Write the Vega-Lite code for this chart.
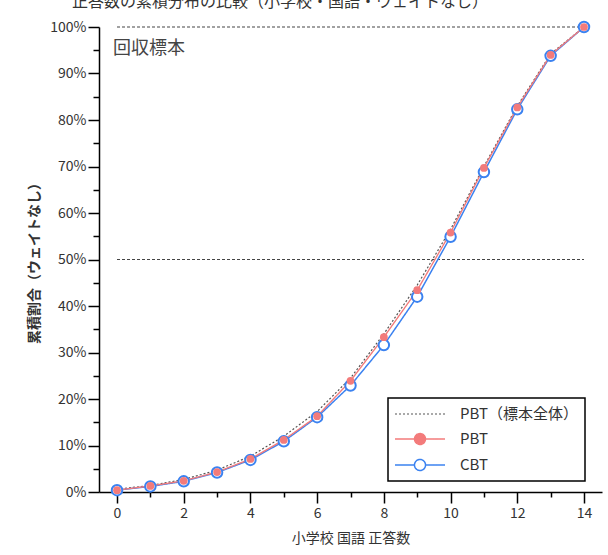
{
  "$schema": "https://vega.github.io/schema/vega-lite/v6.json",
  "width": 503,
  "height": 465,
  "autosize": "none",
  "padding": {"left": 99, "top": 27, "right": 6, "bottom": 63},
  "background": "white",
  "config": {
    "view": {"stroke": null},
    "font": "Noto Sans CJK JP",
    "axis": {"domainColor": "black", "domainWidth": 1.5, "tickColor": "black", "tickWidth": 1.5, "labelFontSize": 14, "labelColor": "#333", "titleFontSize": 14, "titleColor": "#333", "grid": false, "labelFont": "Noto Sans CJK JP", "titleFont": "Noto Sans CJK JP", "labelOverlap": false, "labelFlush": false}
  },
  "data": {"values": [
    {"x": 0, "series": "PBT（標本全体）", "v": 0.006},
    {"x": 1, "series": "PBT（標本全体）", "v": 0.014},
    {"x": 2, "series": "PBT（標本全体）", "v": 0.027},
    {"x": 3, "series": "PBT（標本全体）", "v": 0.047},
    {"x": 4, "series": "PBT（標本全体）", "v": 0.077},
    {"x": 5, "series": "PBT（標本全体）", "v": 0.12},
    {"x": 6, "series": "PBT（標本全体）", "v": 0.173},
    {"x": 7, "series": "PBT（標本全体）", "v": 0.245},
    {"x": 8, "series": "PBT（標本全体）", "v": 0.34},
    {"x": 9, "series": "PBT（標本全体）", "v": 0.445},
    {"x": 10, "series": "PBT（標本全体）", "v": 0.565},
    {"x": 11, "series": "PBT（標本全体）", "v": 0.70},
    {"x": 12, "series": "PBT（標本全体）", "v": 0.83},
    {"x": 13, "series": "PBT（標本全体）", "v": 0.942},
    {"x": 14, "series": "PBT（標本全体）", "v": 1.0},
    {"x": 0, "series": "CBT", "v": 0.004},
    {"x": 1, "series": "CBT", "v": 0.012},
    {"x": 2, "series": "CBT", "v": 0.023},
    {"x": 3, "series": "CBT", "v": 0.042},
    {"x": 4, "series": "CBT", "v": 0.069},
    {"x": 5, "series": "CBT", "v": 0.109},
    {"x": 6, "series": "CBT", "v": 0.161},
    {"x": 7, "series": "CBT", "v": 0.229},
    {"x": 8, "series": "CBT", "v": 0.316},
    {"x": 9, "series": "CBT", "v": 0.42},
    {"x": 10, "series": "CBT", "v": 0.549},
    {"x": 11, "series": "CBT", "v": 0.688},
    {"x": 12, "series": "CBT", "v": 0.823},
    {"x": 13, "series": "CBT", "v": 0.938},
    {"x": 14, "series": "CBT", "v": 1.0},
    {"x": 0, "series": "PBT", "v": 0.004},
    {"x": 1, "series": "PBT", "v": 0.013},
    {"x": 2, "series": "PBT", "v": 0.024},
    {"x": 3, "series": "PBT", "v": 0.043},
    {"x": 4, "series": "PBT", "v": 0.071},
    {"x": 5, "series": "PBT", "v": 0.112},
    {"x": 6, "series": "PBT", "v": 0.163},
    {"x": 7, "series": "PBT", "v": 0.239},
    {"x": 8, "series": "PBT", "v": 0.333},
    {"x": 9, "series": "PBT", "v": 0.434},
    {"x": 10, "series": "PBT", "v": 0.558},
    {"x": 11, "series": "PBT", "v": 0.697},
    {"x": 12, "series": "PBT", "v": 0.827},
    {"x": 13, "series": "PBT", "v": 0.94},
    {"x": 14, "series": "PBT", "v": 1.0}
  ]},
  "layer": [
    {
      "data": {"values": [{"ref": 1}, {"ref": 0.5}]},
      "mark": {"type": "rule", "color": "#444", "strokeDash": [3, 2], "strokeWidth": 1.2},
      "encoding": {
        "y": {"field": "ref", "type": "quantitative", "scale": {"domain": [0, 1], "nice": false, "zero": false},
          "axis": {"orient": "left", "values": [0, 0.1, 0.2, 0.3, 0.4, 0.5, 0.6, 0.7, 0.8, 0.9, 1], "format": ".0%", "tickSize": 11, "labelPadding": 2, "title": "累積割合（ウェイトなし）", "titleFontWeight": "bold", "titlePadding": 8}},
        "x": {"datum": 0, "type": "quantitative", "scale": {"domain": [-0.54, 14.54], "nice": false, "zero": false},
          "axis": {"orient": "bottom", "values": [0, 2, 4, 6, 8, 10, 12, 14], "tickSize": 11, "labelPadding": 3, "title": "小学校 国語 正答数", "titlePadding": 11, "titleFontWeight": "normal"}},
        "x2": {"datum": 14}
      }
    },
    {
      "mark": {"type": "line"},
      "encoding": {
        "x": {"field": "x", "type": "quantitative",
          "axis": {"orient": "bottom", "values": [1, 3, 5, 7, 9, 11, 13], "tickSize": 5, "labels": false, "title": null, "domain": false}},
        "y": {"field": "v", "type": "quantitative",
          "axis": {"orient": "left", "values": [0.05, 0.15, 0.25, 0.35, 0.45, 0.55, 0.65, 0.75, 0.85, 0.95], "tickSize": 6, "labels": false, "title": null, "domain": false}},
        "color": {"field": "series", "type": "nominal",
          "scale": {"domain": ["PBT（標本全体）", "PBT", "CBT"], "range": ["#555555", "#f37b7b", "#3b82f0"]},
          "legend": {
            "orient": "none", "legendX": 289, "legendY": 371, "title": null,
            "padding": 7, "fillColor": "white", "strokeColor": "black",
            "symbolSize": 256, "symbolType": "circle", "symbolStrokeWidth": 1.5,
            "symbolOffset": 16,
            "labelFontSize": 15, "labelColor": "#333", "labelOffset": 31, "rowPadding": 8,
            "labelFont": "Noto Sans CJK JP",
            "encode": {
              "symbols": {"update": {
                "shape": {"signal": "datum.value === 'PBT（標本全体）' ? 'M-3.125,0L3.125,0' : 'M-3.125,0L-0.69,0M0.69,0L3.125,0M0.69,0A0.69,0.69,0,1,1,-0.69,0A0.69,0.69,0,1,1,0.69,0Z'"},
                "fill": {"signal": "datum.value === 'CBT' ? 'white' : (datum.value === 'PBT' ? '#f37b7b' : 'transparent')"},
                "stroke": {"signal": "datum.value === 'CBT' ? '#3b82f0' : (datum.value === 'PBT' ? '#f37b7b' : '#222222')"},
                "strokeDash": {"signal": "datum.value === 'PBT（標本全体）' ? [3, 2] : [1, 0]"},
                "strokeWidth": {"value": 1.5},
                "size": {"value": 256},
                "opacity": {"value": 1}
              }},
              "legend": {"update": {"strokeWidth": {"value": 1.5}}}
            }
          }},
        "strokeDash": {"field": "series", "type": "nominal", "scale": {"domain": ["PBT（標本全体）", "PBT", "CBT"], "range": [[2, 2], [1, 0], [1, 0]]}, "legend": null},
        "strokeWidth": {"field": "series", "type": "nominal", "scale": {"domain": ["PBT（標本全体）", "PBT", "CBT"], "range": [1.2, 1.5, 2]}, "legend": null}
      }
    },
    {
      "transform": [{"filter": "datum.series === 'CBT'"}],
      "mark": {"type": "point", "shape": "circle", "filled": true, "fill": "white", "stroke": "#3b82f0", "strokeWidth": 2, "size": 110, "opacity": 1},
      "encoding": {
        "x": {"field": "x", "type": "quantitative", "axis": null},
        "y": {"field": "v", "type": "quantitative", "axis": null}
      }
    },
    {
      "transform": [{"filter": "datum.series === 'PBT'"}],
      "mark": {"type": "circle", "color": "#f37b7b", "size": 60, "opacity": 1},
      "encoding": {
        "x": {"field": "x", "type": "quantitative", "axis": null},
        "y": {"field": "v", "type": "quantitative", "axis": null}
      }
    },
    {
      "data": {"values": [{"label": "回収標本"}]},
      "mark": {"type": "text", "align": "left", "baseline": "middle", "fontSize": 18, "color": "#444", "font": "Noto Sans CJK JP"},
      "encoding": {
        "text": {"field": "label"},
        "x": {"datum": -0.12, "type": "quantitative", "axis": null},
        "y": {"datum": 0.953, "type": "quantitative", "axis": null}
      }
    },
    {
      "data": {"values": [{"label": "正答数の累積分布の比較（小学校・国語・ウェイトなし）"}]},
      "mark": {"type": "text", "align": "center", "baseline": "alphabetic", "fontSize": 16, "color": "#333", "font": "Noto Sans CJK JP"},
      "encoding": {
        "text": {"field": "label"},
        "x": {"datum": 4.886, "type": "quantitative", "axis": null},
        "y": {"datum": 1.043, "type": "quantitative", "axis": null}
      }
    }
  ],
  "resolve": {"axis": {"x": "independent", "y": "independent"}}
}
